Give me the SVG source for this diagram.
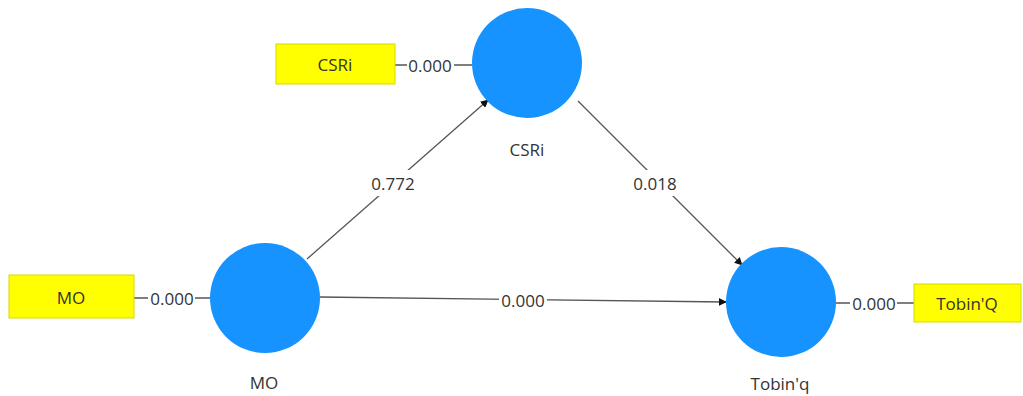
<svg xmlns="http://www.w3.org/2000/svg" width="1023" height="396" viewBox="0 0 1023 396">
<style>
.c{fill:#1793ff}
.b{fill:#ffff00;stroke:#d8d800;stroke-width:1}
.t{font-family:"Open Sans","Noto Sans",sans-serif;font-size:17px;fill:#333;text-anchor:middle;dominant-baseline:central}
.e{stroke:#555;stroke-width:1.3;fill:none}
.bg{fill:#fff}
</style>
<defs>
<marker id="a" viewBox="0 0 10 10" refX="9" refY="5" markerWidth="8" markerHeight="8" markerUnits="userSpaceOnUse" orient="auto"><path d="M0,0L10,5L0,10z" fill="#111"/></marker>
</defs>
<rect width="1023" height="396" fill="#fff"/>
<g id="connectors">
<line class="e" x1="395" y1="65" x2="472" y2="65"/>
<line class="e" x1="134" y1="298" x2="210" y2="298"/>
<line class="e" x1="836" y1="303" x2="914" y2="303"/>
<line class="e" x1="307" y1="259" x2="488" y2="100" marker-end="url(#a)"/>
<line class="e" x1="578" y1="101" x2="742" y2="265" marker-end="url(#a)"/>
<line class="e" x1="320" y1="297" x2="726" y2="302" marker-end="url(#a)"/>
<rect class="bg" x="407" y="55" width="47" height="22"/><text class="t" x="430" y="65">0.000</text>
<rect class="bg" x="148" y="287" width="47" height="22"/><text class="t" x="172" y="298">0.000</text>
<rect class="bg" x="850" y="292" width="47" height="22"/><text class="t" x="874" y="303">0.000</text>
<rect class="bg" x="368" y="170" width="50" height="26"/><text class="t" x="393" y="183">0.772</text>
<rect class="bg" x="630" y="170" width="50" height="26"/><text class="t" x="655" y="183">0.018</text>
<rect class="bg" x="499" y="289" width="48" height="22"/><text class="t" x="523" y="300">0.000</text>
</g>
<g id="CSRi">
<circle class="c" cx="527" cy="63" r="55"/>
<text class="t" x="527" y="149">CSRi</text>
</g>
<g id="MO">
<circle class="c" cx="265" cy="298" r="55"/>
<text class="t" x="264" y="382">MO</text>
</g>
<g id="Tobinq">
<circle class="c" cx="781" cy="302" r="55"/>
<text class="t" x="780" y="383">Tobin'q</text>
</g>
<g id="CSRi-ind">
<rect class="b" x="276" y="44" width="119" height="40"/>
<text class="t" x="335" y="64">CSRi</text>
</g>
<g id="MO-ind">
<rect class="b" x="9" y="275" width="125" height="43"/>
<text class="t" x="71" y="297">MO</text>
</g>
<g id="Tobin-ind">
<rect class="b" x="914" y="284" width="107" height="38"/>
<text class="t" x="967" y="303">Tobin'Q</text>
</g>
</svg>
